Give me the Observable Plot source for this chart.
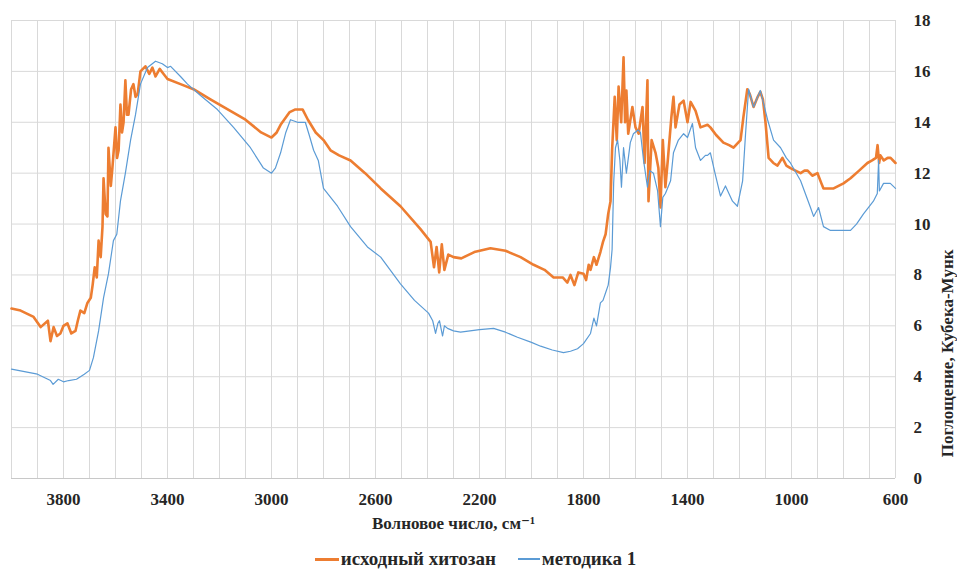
<!DOCTYPE html>
<html>
<head>
<meta charset="utf-8">
<script src="https://cdn.jsdelivr.net/npm/d3@7"></script>
<script src="https://cdn.jsdelivr.net/npm/@observablehq/plot@0.6"></script>
<style>
  html, body { margin: 0; padding: 0; background: #fff; }
  #chart { width: 957px; height: 545px; }
  #chart svg, #chart svg text { font-family: "Liberation Serif", "DejaVu Serif", serif !important; }
  .legend { display: flex; justify-content: center; align-items: center; height: 20px; line-height: 20px; margin-top: 4px;
    font-family: "Liberation Serif", "DejaVu Serif", serif; font-weight: bold; font-size: 19px; color: #262626; padding-right: 6px; }
  .legend .item { display: flex; align-items: center; margin: 0 11px; }
  .legend .sw { display: inline-block; margin-right: 2px; }
</style>
</head>
<body>
<div id="chart"></div>
<script>
// ---- data ----
const seriesNames = ["исходный хитозан", "методика 1"];
const seriesColors = ["#ED7D31", "#5B9BD5"];

const chitosanWN = [4000,3965,3915,3888,3860,3850,3838,3825,3812,3800,3785,3770,3754,3745,3735,3720,3708,3695,3688,3680,3672,3665,3657,3650,3646,3638,3631,3627,3618,3612,3600,3594,3588,3581,3575,3569,3562,3556,3550,3540,3531,3523,3515,3504,3485,3470,3458,3446,3430,3415,3400,3350,3300,3235,3150,3100,3040,3000,2980,2965,2930,2910,2880,2860,2830,2800,2773,2740,2696,2640,2580,2504,2427,2388,2375,2365,2355,2345,2335,2320,2300,2270,2220,2158,2100,2042,1992,1950,1915,1880,1862,1850,1835,1820,1800,1790,1780,1773,1760,1750,1735,1725,1715,1705,1696,1690,1680,1672,1665,1655,1646,1640,1635,1628,1612,1600,1588,1573,1565,1554,1550,1538,1523,1512,1504,1495,1485,1475,1462,1454,1446,1431,1415,1400,1388,1369,1350,1323,1312,1290,1262,1240,1223,1196,1185,1170,1160,1146,1130,1120,1110,1100,1088,1070,1054,1035,1020,1004,985,965,950,938,920,900,885,877,838,800,773,740,708,690,675,669,663,658,645,630,619,600];
const chitosanVal = [6.68,6.6,6.35,5.95,6.2,5.4,5.95,5.6,5.7,6.0,6.1,5.7,5.8,6.2,6.6,6.5,6.9,7.1,7.6,8.3,7.9,9.35,8.7,9.9,11.8,10.4,10.3,13.0,11.5,12.2,13.8,12.6,12.9,14.7,13.6,14.0,15.65,14.3,14.3,15.3,15.5,15.0,15.1,16.0,16.2,15.9,16.15,15.8,16.1,15.9,15.7,15.5,15.3,14.9,14.4,14.1,13.6,13.4,13.6,13.9,14.4,14.5,14.5,14.1,13.6,13.3,12.9,12.7,12.5,12.0,11.4,10.7,9.8,9.3,8.3,9.1,8.1,9.2,8.2,8.8,8.7,8.65,8.9,9.05,8.95,8.7,8.4,8.2,7.9,7.9,7.7,8.0,7.6,8.1,8.05,7.8,8.4,8.2,8.7,8.4,8.9,9.3,9.6,10.4,10.9,12.9,15.0,13.3,15.4,14.0,16.55,14.0,15.25,13.55,14.6,13.8,13.55,14.6,12.4,15.65,10.9,13.3,12.8,12.2,10.65,13.3,11.45,12.6,14.2,15.0,13.8,14.7,14.85,14.0,14.8,14.45,13.8,13.9,13.8,13.5,13.2,13.1,13.0,13.3,14.2,15.3,15.1,14.6,15.0,15.2,14.9,14.0,12.6,12.4,12.3,12.6,12.3,12.2,12.1,12.0,12.1,12.1,11.9,12.0,11.6,11.4,11.4,11.6,11.8,12.1,12.4,12.5,12.6,13.1,12.4,12.7,12.5,12.6,12.6,12.4];

const method1WN = [4000,3950,3900,3850,3840,3820,3800,3780,3750,3720,3700,3685,3665,3646,3627,3608,3595,3581,3562,3542,3523,3504,3477,3446,3420,3400,3388,3350,3323,3273,3208,3146,3081,3031,3000,2985,2965,2945,2927,2900,2870,2855,2838,2820,2800,2746,2696,2631,2580,2504,2450,2396,2380,2369,2360,2354,2342,2335,2323,2300,2273,2200,2146,2100,2054,2000,1965,1920,1877,1850,1823,1800,1773,1760,1750,1735,1725,1715,1705,1696,1690,1684,1677,1669,1660,1654,1646,1635,1620,1608,1590,1581,1569,1554,1545,1531,1515,1504,1495,1485,1465,1454,1435,1415,1400,1381,1369,1350,1331,1323,1312,1292,1273,1254,1227,1208,1188,1177,1165,1146,1120,1092,1069,1042,1020,1004,965,927,915,896,877,850,812,773,750,723,685,670,665,662,646,620,600];
const method1Val = [4.3,4.2,4.1,3.85,3.7,3.9,3.8,3.85,3.9,4.1,4.25,4.75,5.8,7.1,8.05,9.35,9.6,10.9,12.0,13.3,14.3,15.5,16.15,16.4,16.3,16.15,16.2,15.8,15.5,15.05,14.5,13.8,13.0,12.2,12.0,12.2,12.8,13.6,14.1,14.0,14.0,13.5,12.9,12.5,11.4,10.7,9.9,9.1,8.7,7.65,7.0,6.5,6.2,5.7,6.1,6.2,5.6,6.0,5.9,5.8,5.75,5.85,5.9,5.75,5.55,5.35,5.2,5.05,4.95,5.0,5.1,5.3,5.7,6.3,6.0,6.9,7.0,7.3,7.6,8.3,9.0,11.6,13.0,13.3,12.5,11.45,13.0,12.0,13.2,13.55,13.7,13.6,12.5,11.45,12.1,12.0,11.3,9.9,11.05,11.2,11.7,12.8,13.3,13.55,13.4,13.95,13.0,12.5,12.7,12.7,12.8,11.9,11.1,11.5,10.9,10.7,11.7,13.5,15.3,14.6,15.25,14.1,13.3,13.0,12.6,12.4,11.7,10.65,10.3,10.65,9.9,9.75,9.75,9.75,10.0,10.4,10.9,11.2,12.5,11.3,11.6,11.6,11.4];

const xTicks = [3800, 3400, 3000, 2600, 2200, 1800, 1400, 1000, 600];
const yTicks = [0, 2, 4, 6, 8, 10, 12, 14, 16, 18];
const xGrid = d3.range(4000, 599, -100);
const xTitle = "Волновое число, см⁻¹";
const yTitle = "Поглощение, Кубека-Мунк";

// ---- build ----
const chitosan = chitosanWN.map((w, i) => ({w, v: chitosanVal[i]}));
const method1 = method1WN.map((w, i) => ({w, v: method1Val[i]}));

const font = "'Liberation Serif', 'DejaVu Serif', serif";

const chart = Plot.plot({
  width: 957,
  height: 545,
  marginLeft: 11,
  marginRight: 62,
  marginTop: 20,
  marginBottom: 67,
  style: {fontFamily: font, fontWeight: "bold", fontSize: "17px", color: "#262626", background: "#fff"},
  x: {domain: [4000, 600], ticks: xTicks, tickFormat: d3.format("d"), label: null},
  y: {domain: [0, 18], ticks: yTicks, label: null},
  marks: [
    Plot.ruleX(xGrid, {stroke: "#d9d9d9", strokeWidth: 1}),
    Plot.ruleY(yTicks.filter(d => d > 0), {stroke: "#d9d9d9", strokeWidth: 1}),
    Plot.ruleY([0], {stroke: "#c8c8c8", strokeWidth: 1}),
    Plot.axisX({ticks: xTicks, tickSize: 0, tickPadding: 14, tickFormat: d3.format("d"), label: null, fontSize: 17, fontWeight: "bold", fontFamily: font}),
    Plot.axisY({anchor: "right", ticks: yTicks, tickSize: 0, tickPadding: 18, label: null, fontSize: 17, fontWeight: "bold", fontFamily: font}),
    Plot.line(chitosan, {x: "w", y: "v", stroke: seriesColors[0], strokeWidth: 2.6, strokeLinejoin: "round"}),
    Plot.line(method1, {x: "w", y: "v", stroke: seriesColors[1], strokeWidth: 1.2, strokeLinejoin: "round"}),
    Plot.text([xTitle], {frameAnchor: "bottom", dy: 45, text: d => d, fontSize: 17, fontWeight: "bold", fontFamily: font, fill: "#262626", lineAnchor: "middle"}),
    Plot.text([yTitle], {frameAnchor: "right", dx: 52, rotate: -90, text: d => d, fontSize: 17, fontWeight: "bold", fontFamily: font, fill: "#262626", lineAnchor: "middle"})
  ]
});
document.getElementById("chart").appendChild(chart);

// legend
const legend = document.createElement("div");
legend.className = "legend";
seriesNames.forEach((name, i) => {
  const item = document.createElement("span");
  item.className = "item";
  const sw = document.createElement("span");
  sw.className = "sw";
  sw.style.width = (i === 0 ? 24 : 22) + "px";
  sw.style.height = (i === 0 ? 3 : 1.5) + "px";
  sw.style.background = seriesColors[i];
  item.appendChild(sw);
  const t = document.createElement("span");
  t.textContent = name;
  item.appendChild(t);
  legend.appendChild(item);
});
document.body.appendChild(legend);
</script>
</body>
</html>
